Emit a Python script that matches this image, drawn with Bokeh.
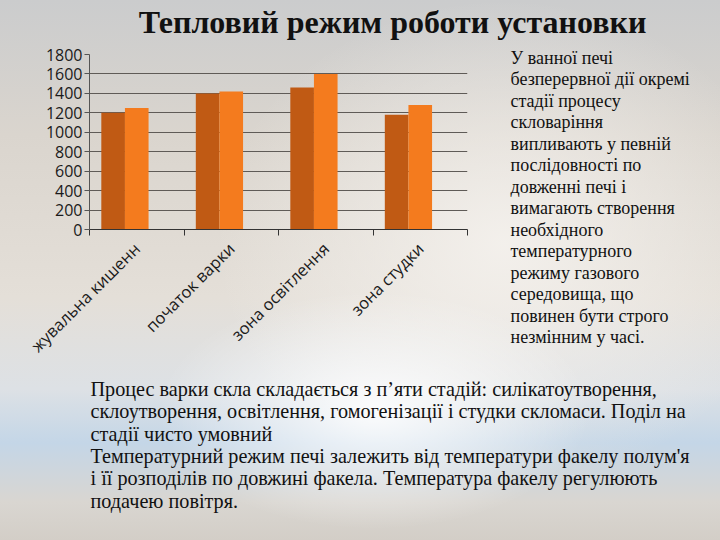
from math import pi
from bokeh.plotting import figure
from bokeh.models import Label, FixedTicker, Range1d, ColumnDataSource
from bokeh.transform import dodge
from bokeh.layouts import column, row
from bokeh.embed import file_html
from bokeh.resources import INLINE

# ---- data ----
categories = ["жувальна кишенн", "початок варки", "зона освітлення", "зона студки"]
series_a = [1200, 1400, 1460, 1180]
series_b = [1250, 1420, 1600, 1280]
y_ticks = [0, 200, 400, 600, 800, 1000, 1200, 1400, 1600, 1800]

title_text = "Тепловий режим роботи установки"
side_lines = [
    "У ванної печі",
    "безперервної дії окремі",
    "стадії процесу",
    "скловаріння",
    "випливають у певній",
    "послідовності по",
    "довженні печі і",
    "вимагають створення",
    "необхідного",
    "температурного",
    "режиму газового",
    "середовища, що",
    "повинен бути строго",
    "незмінним у часі.",
]
bottom_lines = [
    "Процес варки скла складається з п’яти стадій: силікатоутворення,",
    "склоутворення, освітлення, гомогенізації і студки скломаси. Поділ на",
    "стадії чисто умовний",
    "Температурний режим печі залежить від температури  факелу полум'я",
    "і її розподілів по довжині факела. Температура факелу регулюють",
    "подачею повітря.",
]

# ---- layout (page pixels) ----
W, H = 720, 540
TOP_H = 42
MID_END = 367
CHART_W = 495
FL, FR, FT, FB = 89, 467, 54, 229  # chart frame edges on the page


def text_panel(x0, x1, y0, y1):
    f = figure(width=x1 - x0, height=y1 - y0, output_backend="svg", toolbar_location=None,
               x_range=Range1d(x0, x1), y_range=Range1d(y1, y0), title=None,
               x_axis_type=None, y_axis_type=None, min_border=0, frame_align=False)
    f.background_fill_alpha = 0
    f.border_fill_alpha = 0
    f.outline_line_color = None
    f.grid.visible = False
    return f


def put(f, text, X, baseline, size, bold=False, align="left"):
    # shift so that the glyph baseline lands on the wanted page row
    f.add_layout(Label(x=X, y=baseline - 0.37 * size, text=text,
                       text_font="Liberation Serif",
                       text_font_size=f"{size}px",
                       text_font_style="bold" if bold else "normal",
                       text_color="#111111", text_align=align,
                       text_baseline="alphabetic"))


# title
top = text_panel(0, W, 0, TOP_H)
put(top, title_text, 392, 33, 32, bold=True, align="center")

# chart
src = ColumnDataSource(dict(x=list(range(len(categories))), a=series_a, b=series_b))
p = figure(width=CHART_W, height=MID_END - TOP_H, output_backend="svg", toolbar_location=None,
           x_range=Range1d(-0.5, len(categories) - 0.5), y_range=Range1d(0, 1800),
           title=None,
           min_border_left=FL, min_border_right=CHART_W - FR,
           min_border_top=FT - TOP_H, min_border_bottom=MID_END - FB,
           frame_align=False)
p.background_fill_alpha = 0
p.border_fill_alpha = 0
p.outline_line_color = None

p.vbar(x=dodge("x", -0.25, range=p.x_range), top="a", width=0.25, source=src,
       fill_color="#c05a14", line_color=None)
p.vbar(x=dodge("x", 0.0, range=p.x_range), top="b", width=0.25, source=src,
       fill_color="#f47b1e", line_color=None)

p.yaxis.ticker = FixedTicker(ticks=y_ticks)
p.yaxis.axis_line_color = "#555555"
p.yaxis.major_tick_line_color = "#555555"
p.yaxis.major_tick_out = 5
p.yaxis.major_tick_in = 0
p.yaxis.minor_tick_line_color = None
p.yaxis.major_label_standoff = 2
p.yaxis.major_label_text_font = "Open Sans"
p.yaxis.major_label_text_font_size = "16px"
p.yaxis.major_label_text_color = "#1a1a1a"

p.ygrid.ticker = FixedTicker(ticks=y_ticks)
p.ygrid.grid_line_color = "#5f5b57"
p.ygrid.grid_line_width = 1.2
p.xgrid.grid_line_color = None

p.xaxis.ticker = FixedTicker(ticks=list(range(len(categories))),
                             minor_ticks=[i - 0.5 for i in range(len(categories) + 1)])
p.xaxis.major_label_overrides = {i: c for i, c in enumerate(categories)}
p.xaxis.major_label_orientation = pi / 4
p.xaxis.major_tick_line_color = None
p.xaxis.minor_tick_line_color = "#333333"
p.xaxis.minor_tick_out = 6
p.xaxis.minor_tick_in = 0
p.xaxis.axis_line_color = "#333333"
p.xaxis.major_label_standoff = 10
p.xaxis.major_label_text_font = "Open Sans"
p.xaxis.major_label_text_font_size = "16.5px"
p.xaxis.major_label_text_color = "#1a1a1a"

# side text
side = text_panel(CHART_W, W, TOP_H, MID_END)
for i, line in enumerate(side_lines):
    put(side, line, 510, 64 + 21.5 * i, 18)

# bottom text
bottom = text_panel(0, W, MID_END, H)
for i, line in enumerate(bottom_lines):
    put(bottom, line, 90, 396 + 22.3 * i, 20.2)

page = column(top, row(p, side), bottom, width=W, height=H,
              styles={"background":
                      "radial-gradient(ellipse 30% 22% at 52% 76%, rgba(255,255,255,0.9), rgba(255,255,255,0)), "
                      "radial-gradient(ellipse 40% 45% at 70% 45%, rgba(245,242,238,0.9), rgba(245,242,238,0)), "
                      "linear-gradient(to bottom, #cbcccd 0%, #dad5ce 25%, #e4dfd8 55%, #dde1e5 72%, "
                      "#c4d6e7 82%, #d9d6d1 93%, #d3cec7 100%)"})

open("out.html", "w").write(file_html(page, INLINE))
